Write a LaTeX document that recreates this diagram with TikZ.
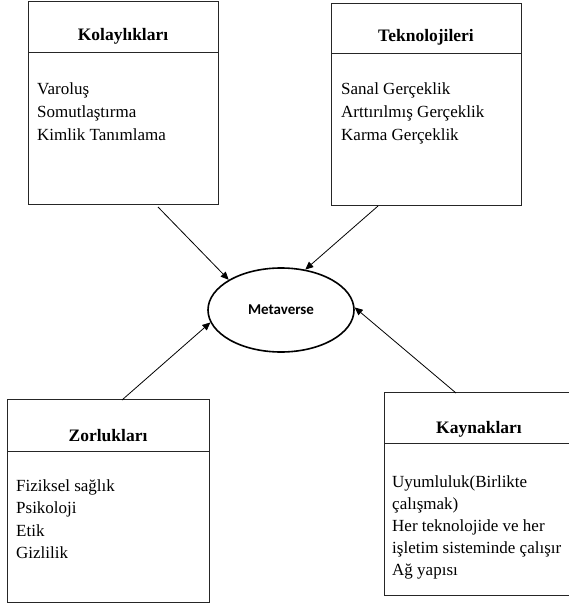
\documentclass[tikz,border=0pt]{standalone}
\usepackage{fontspec}
\setmainfont{Liberation Serif}
\newfontfamily\calfont{Carlito}
\usetikzlibrary{arrows.meta,shapes.geometric}
\begin{document}
\begin{tikzpicture}[x=1pt,y=-1pt,
  boxframe/.style={draw=black!85,line width=0.9pt},
  divline/.style={draw=black!85,line width=0.9pt},
  ttl/.style={font=\fontsize{17.5}{21}\selectfont\bfseries,anchor=base,inner sep=0pt},
  itm/.style={font=\fontsize{17}{22}\selectfont,anchor=base west,inner sep=0pt},
  conn/.style={draw=black!75,line width=0.8pt,-{Triangle[length=8pt,width=7pt]},black}]
\useasboundingbox (0,0) rectangle (569,607);

% Kolayliklari
\draw[boxframe] (28,1) rectangle (218,204);
\draw[divline] (28,52) -- (218,52);
\node[ttl] (kt) at (123,41) {Kolaylıkları};
\node[itm] (k1) at (37,95) {Varoluş};
\node[itm] (k2) at (37,117.5) {Somutlaştırma};
\node[itm] (k3) at (37,140) {Kimlik Tanımlama};

% Teknolojileri
\draw[boxframe] (331,3) rectangle (521,205);
\draw[divline] (331,53) -- (521,53);
\node[ttl] (tt) at (426,42) {Teknolojileri};
\node[itm] (t1) at (341,95) {Sanal Gerçeklik};
\node[itm] (t2) at (341,117.5) {Arttırılmış Gerçeklik};
\node[itm] (t3) at (341,140) {Karma Gerçeklik};

% Zorluklari
\draw[boxframe] (7,399) rectangle (209,602);
\draw[divline] (7,451) -- (209,451);
\node[ttl] (zt) at (108,441) {Zorlukları};
\node[itm] (z1) at (16,491) {Fiziksel sağlık};
\node[itm] (z2) at (16,513.5) {Psikoloji};
\node[itm] (z3) at (16,536) {Etik};
\node[itm] (z4) at (16,558.5) {Gizlilik};

% Kaynaklari
\draw[boxframe] (384,392) rectangle (575,595);
\draw[divline] (384,443) -- (575,443);
\node[ttl] (yt) at (479,433) {Kaynakları};
\node[itm] (y1) at (392,487) {Uyumluluk(Birlikte};
\node[itm] (y2) at (392,509) {çalışmak)};
\node[itm] (y3) at (392,531) {Her teknolojide ve her};
\node[itm] (y4) at (392,553) {işletim sisteminde çalışır};
\node[itm] (y5) at (392,575) {Ağ yapısı};

% Metaverse
\node[ellipse,draw=black,line width=1.6pt,minimum width=146pt,minimum height=84pt,inner sep=0pt,
  font=\calfont\fontsize{15}{18}\selectfont\bfseries] (m) at (281,310) {Metaverse};

\coordinate (a1) at (158,207);
\coordinate (a2) at (378,206);
\coordinate (a3) at (122,400);
\coordinate (a4) at (456,393);

\draw[conn] (a1) -- (m.150);
\draw[conn] (a2) -- (m.59);
\draw[conn] (a3) -- (m.190);
\draw[conn] (a4) -- (m.2);
\end{tikzpicture}
\end{document}
